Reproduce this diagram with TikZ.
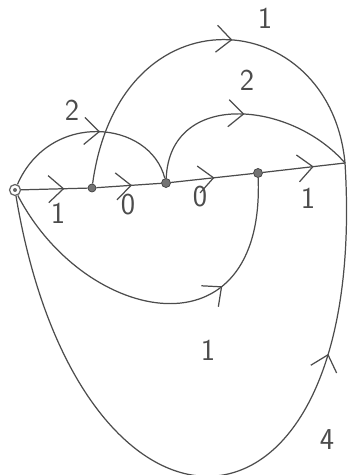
\documentclass[tikz,border=0pt]{standalone}
\usetikzlibrary{arrows.meta,decorations.markings}

\begin{document}
\begin{tikzpicture}[
    edge/.style={black!70, line width=0.7pt},
    midarrow/.style={postaction={decorate}, decoration={markings,
        mark=at position #1 with {\arrow{Straight Barb[length=3mm, width=5.4mm, line width=0.7pt]}}}},
    vertex/.style={circle, draw=black!75, fill=black!55, inner sep=0pt, minimum size=1.8mm},
    source/.style={circle, draw=black!60, line width=0.7pt, inner sep=0pt, minimum size=2.2mm},
    weight/.style={font=\sffamily\LARGE, text=black!70},
]

\useasboundingbox (0,0) rectangle (7.2,9.5);

% Vertices along the main line
\node[source] (A) at (0.3,5.7) {};
\fill[black!60] (A) circle (0.4mm);
\node[vertex, minimum size=1.6mm] (B) at (1.84,5.74) {};
\node[vertex] (C) at (3.32,5.84) {};
\node[vertex] (D) at (5.16,6.04) {};
\coordinate (E) at (6.9,6.24);

% Main line
\draw[edge, midarrow=0.65] (A) -- (B);
\draw[edge, midarrow=0.55] (B) -- (C);
\draw[edge, midarrow=0.53] (C) -- (D);
\draw[edge, midarrow=0.62] (D) -- (E);

% Arcs above
\draw[edge, midarrow=0.55] (A) .. controls (1.0,7.3) and (3.0,7.1) .. (C);
\draw[edge, midarrow=0.55] (B) .. controls (2.4,9.8) and (6.6,9.4) .. (E);
\draw[edge, midarrow=0.5] (C) .. controls (3.4,7.7) and (5.8,7.5) .. (E);

% Curves below
\draw[edge, midarrow=0.68] (A) .. controls (1.7,3.0) and (5.3,2.3) .. (D);
\draw[edge, midarrow=0.74] (A) .. controls (1.6,-2.1) and (7.4,-1.9) .. (E);

% Weights
\node[weight] (wAB) at (1.16,5.24) {1};
\node[weight] (wBC) at (2.56,5.4) {0};
\node[weight] (wCD) at (4.0,5.56) {0};
\node[weight] (wDE) at (6.16,5.54) {1};
\node[weight] (wAC) at (1.44,7.3) {2};
\node[weight] (wBE) at (5.3,9.14) {1};
\node[weight] (wCE) at (4.94,7.9) {2};
\node[weight] (wAD) at (4.16,2.5) {1};
\node[weight] (wAE) at (6.54,0.7) {4};

\end{tikzpicture}
\end{document}
